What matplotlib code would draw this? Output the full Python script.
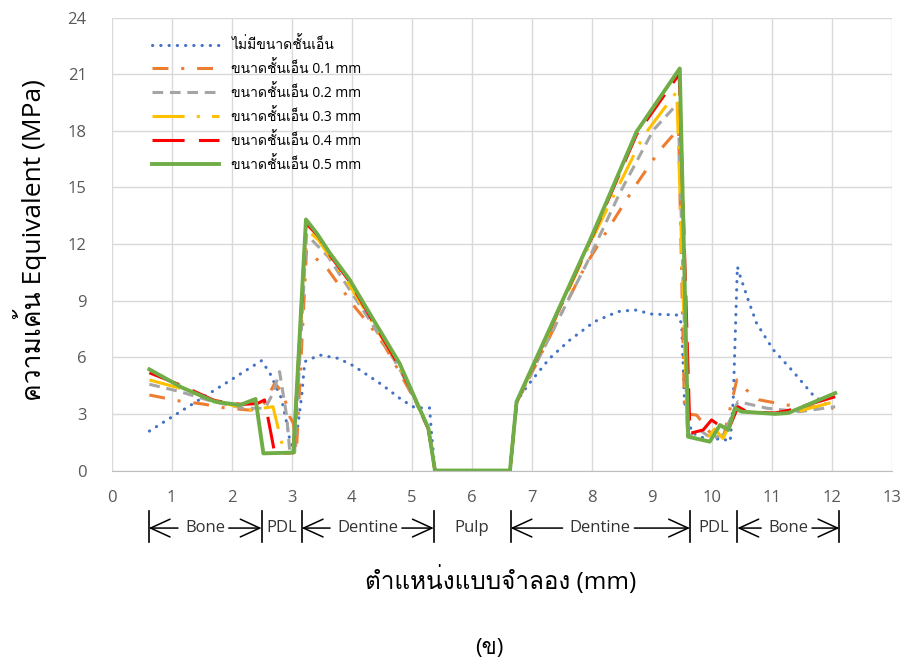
import matplotlib
matplotlib.use("Agg")
from matplotlib import pyplot as plt
from matplotlib import font_manager
from matplotlib.ft2font import FT2Font
from matplotlib.transforms import blended_transform_factory

# stress along the model path, one series per ligament layer thickness
x_none = [0.63, 2.50, 2.64, 2.83, 2.92, 2.97, 3.05, 3.17, 3.22, 3.47, 3.78, 4.03, 4.50, 4.83, 5.06,
          5.30, 5.33, 5.39, 6.64, 6.75, 6.94, 7.30, 7.64, 8.05, 8.44, 8.72, 9.00, 9.42, 9.50, 9.55,
          9.67, 10.00, 10.14, 10.31, 10.36, 10.43, 10.47, 10.61, 10.75, 11.03, 11.36, 11.69, 11.92, 12.00]
y_none = [2.09, 5.82, 5.15, 3.83, 2.50, 1.62, 1.00, 4.00, 5.77, 6.12, 5.94, 5.55, 4.56, 3.76, 3.32,
          3.32, 2.07, 0.00, 0.00, 3.65, 4.53, 5.94, 6.92, 7.89, 8.42, 8.51, 8.29, 8.24, 7.80, 3.60,
          2.00, 1.54, 1.72, 1.54, 3.67, 10.80, 10.36, 9.04, 7.80, 6.39, 5.24, 4.00, 3.47, 3.30]

x_01 = [0.63, 1.14, 1.53, 1.86, 2.30, 2.50, 2.72, 2.86, 2.97, 3.03, 3.08, 3.25, 3.61, 4.05, 4.30,
        4.56, 4.80, 5.06, 5.28, 5.39, 6.64, 6.75, 7.58, 7.92, 8.30, 8.72, 9.14, 9.45, 9.55, 9.75,
        9.86, 10.00, 10.20, 10.42, 10.58, 10.80, 11.25, 12.03]
y_01 = [4.00, 3.68, 3.52, 3.33, 3.20, 3.30, 4.62, 4.09, 2.85, 2.50, 1.00, 11.70, 10.63, 8.68, 7.71,
        6.56, 5.20, 3.70, 2.20, 0.00, 0.00, 3.55, 8.86, 10.98, 12.92, 15.04, 16.98, 18.10, 3.00, 2.94,
        2.50, 1.90, 1.80, 4.80, 4.27, 3.74, 3.47, 3.30]

x_02 = [0.63, 1.14, 1.69, 2.20, 2.56, 2.69, 2.80, 2.92, 2.97, 3.05, 3.25, 3.61, 3.97, 4.30, 4.80,
        5.06, 5.28, 5.39, 6.64, 6.75, 7.92, 8.47, 9.03, 9.44, 9.60, 9.80, 10.00, 10.20, 10.44, 10.69,
        10.92, 11.47, 12.06]
y_02 = [4.57, 4.18, 3.65, 3.30, 3.30, 4.09, 5.24, 2.85, 1.00, 0.95, 12.50, 11.33, 9.57, 7.98, 5.40,
        3.70, 2.20, 0.00, 0.00, 3.60, 10.98, 14.70, 18.04, 19.46, 1.80, 2.15, 1.70, 1.90, 3.65, 3.47,
        3.30, 3.12, 3.38]

x_03 = [0.63, 1.14, 1.69, 2.30, 2.69, 2.88, 3.03, 3.24, 3.45, 3.64, 3.97, 4.30, 4.80, 5.06, 5.28,
        5.39, 6.64, 6.75, 8.00, 8.86, 9.42, 9.60, 9.90, 10.05, 10.19, 10.44, 10.60, 11.10, 11.40, 12.05]
y_03 = [4.80, 4.36, 3.74, 3.20, 3.38, 0.90, 0.95, 12.80, 12.20, 11.30, 9.80, 8.10, 5.50, 3.80, 2.20,
        0.00, 0.00, 3.60, 12.20, 17.70, 20.07, 1.80, 1.60, 2.20, 1.70, 3.30, 3.10, 3.00, 3.10, 3.65]

x_04 = [0.63, 1.17, 1.72, 2.17, 2.43, 2.55, 2.72, 3.03, 3.24, 3.45, 3.64, 3.97, 4.30, 4.80, 5.06,
        5.28, 5.39, 6.64, 6.75, 8.00, 8.75, 9.46, 9.64, 9.86, 10.00, 10.08, 10.28, 10.44, 10.60, 11.06,
        11.30, 12.06]
y_04 = [5.18, 4.50, 3.70, 3.50, 3.55, 3.74, 0.90, 0.95, 13.10, 12.40, 11.40, 10.00, 8.20, 5.50, 3.80,
        2.20, 0.00, 0.00, 3.60, 12.30, 17.80, 21.00, 1.97, 2.15, 2.68, 2.50, 2.15, 3.38, 3.10, 3.05,
        3.20, 3.91]

x_05 = [0.63, 1.17, 1.72, 2.14, 2.40, 2.53, 3.03, 3.24, 3.42, 3.64, 3.97, 4.30, 4.80, 5.06, 5.28,
        5.39, 6.64, 6.75, 8.00, 8.75, 9.47, 9.61, 9.97, 10.14, 10.28, 10.39, 10.50, 11.06, 11.28, 12.06]
y_05 = [5.36, 4.40, 3.65, 3.47, 3.79, 0.91, 0.95, 13.30, 12.57, 11.51, 10.10, 8.33, 5.68, 3.80, 2.25,
        0.00, 0.00, 3.65, 12.39, 17.95, 21.30, 1.79, 1.53, 2.41, 2.15, 3.30, 3.12, 3.00, 3.05, 4.10]

series_x = [x_none, x_01, x_02, x_03, x_04, x_05]
series_y = [y_none, y_01, y_02, y_03, y_04, y_05]
series_labels = ["ไม่มีขนาดชั้นเอ็น", "ขนาดชั้นเอ็น 0.1 mm", "ขนาดชั้นเอ็น 0.2 mm",
                 "ขนาดชั้นเอ็น 0.3 mm", "ขนาดชั้นเอ็น 0.4 mm", "ขนาดชั้นเอ็น 0.5 mm"]

# tissue regions along the path
region_edges = [0.62, 2.5, 3.17, 5.37, 6.65, 9.64, 10.43, 12.13]
region_names = ["Bone", "PDL", "Dentine", "Pulp", "Dentine", "PDL", "Bone"]
region_arrows = [True, False, True, False, True, False, True]

colors = ["#4472C4", "#ED7D31", "#A5A5A5", "#FFC000", "#FF0000", "#70AD47"]
styles = [(0, (0.1, 2.6)), (0, (5.2, 4.2, 1, 4.2)), (0, (3.5, 2.2)),
          (0, (10.5, 4, 1, 4)), (0, (10.5, 4.7)), "-"]
widths = [2.2, 2.2, 2.2, 2.2, 2.2, 2.8]
caps = ["round", "butt", "butt", "butt", "butt", "butt"]


def find_thai_font():
    for f in font_manager.fontManager.ttflist:
        try:
            if 0x0E01 in FT2Font(f.fname).get_charmap():
                return f.name
        except Exception:
            continue
    return None


thai = find_thai_font()
families = ["Open Sans"] + ([thai] if thai else []) + ["DejaVu Sans"]
plt.rcParams["font.family"] = families

fig = plt.figure(figsize=(9.07, 6.63), dpi=100)
ax = fig.add_axes([0.123, 0.2903, 0.860, 0.6833])

for xs, ys, c, ls, lw, cap, lab in zip(series_x, series_y, colors, styles, widths, caps, series_labels):
    ax.plot(xs, ys, color=c, linestyle=ls, linewidth=lw, dash_capstyle=cap,
            solid_joinstyle="round", label=lab)

ax.set_xlim(0, 13)
ax.set_ylim(0, 24)
ax.set_xticks(range(0, 14))
ax.set_yticks(range(0, 25, 3))
ax.grid(True, color="#d9d9d9", linewidth=1)
ax.set_axisbelow(True)
for side in ["top", "right", "left"]:
    ax.spines[side].set_visible(False)
ax.spines["bottom"].set_color("#bfbfbf")
ax.tick_params(length=0, labelsize=12, labelcolor="#595959")
ax.tick_params(axis="x", pad=14)
ax.tick_params(axis="y", pad=18)

ax.legend(loc="upper left", bbox_to_anchor=(0.045, 0.968), frameon=False, fontsize=10,
          handlelength=4.8, handletextpad=0.9, labelspacing=0.57, borderaxespad=0)

# region bars and arrows under the x axis
trans = blended_transform_factory(ax.transData, ax.transAxes)
row_y = -0.127
for e in region_edges:
    ax.plot([e, e], [-0.089, -0.158], transform=trans, color="black", lw=1.2, clip_on=False)

fig.canvas.draw()
renderer = fig.canvas.get_renderer()
for i, name in enumerate(region_names):
    left, right = region_edges[i], region_edges[i + 1]
    mid = (left + right) / 2
    t = ax.text(mid, row_y, name, transform=trans, ha="center", va="center",
                fontsize=12, color="#333333")
    if not region_arrows[i]:
        continue
    bb = t.get_window_extent(renderer).transformed(ax.transData.inverted())
    for start, end in [(bb.x0 - 0.12, left), (bb.x1 + 0.06, right)]:
        ax.annotate("", xy=(end, row_y), xytext=(start, row_y), xycoords=trans, textcoords=trans,
                    arrowprops=dict(arrowstyle="->,head_length=0.7,head_width=0.32",
                                    mutation_scale=20, shrinkA=0, shrinkB=0, lw=1.1, color="black"),
                    annotation_clip=False)

fig.text(0.033, 0.638, "ความเค้น Equivalent (MPa)", rotation=90, ha="center", va="center",
         fontsize=19, color="black")
fig.text(0.552, 0.125, "ตำแหน่งแบบจำลอง (mm)", ha="center", va="center", fontsize=17.5, color="black")
fig.text(0.54, 0.0226, "(ข)", ha="center", va="center", fontsize=16, color="black")

fig.savefig("out.png", dpi=100)
